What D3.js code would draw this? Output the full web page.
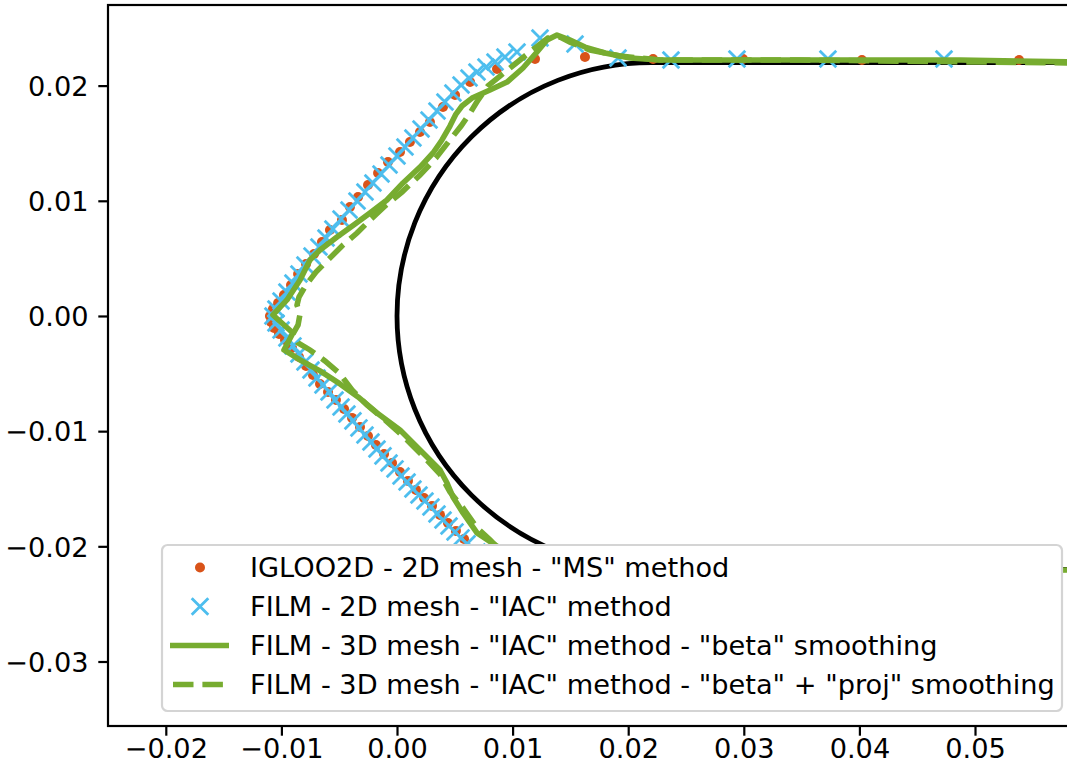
<!DOCTYPE html>
<html>
<head>
<meta charset="utf-8">
<script src="https://cdn.jsdelivr.net/npm/d3@7"></script>
<style>
body { margin: 0; background: #fff; }
svg { display: block; }
text { font-family: "DejaVu Sans", sans-serif; }
</style>
</head>
<body>
<div id="chart"></div>
<script>
// tick values
var xTicks = [-0.02, -0.01, 0.00, 0.01, 0.02, 0.03, 0.04, 0.05];
var yTicks = [-0.03, -0.02, -0.01, 0.00, 0.01, 0.02];

// clean body: leading edge circle + flat sides
var bodyCenterX = 0.022;
var bodyRadius = 0.022;
var bodyEndX = 0.0587;

// IGLOO2D - 2D mesh - "MS" method
var igloo = [
  [0.05381, 0.02222], [0.04022, 0.02222], [0.02993, 0.02231], [0.02215, 0.02231],
  [0.01626, 0.02248], [0.01194, 0.02231], [0.00865, 0.02144], [0.00632, 0.02031],
  [0.00502, 0.01918], [0.00398, 0.01814], [0.00285, 0.01684], [0.00199, 0.01597],
  [0.00112, 0.01510], [0.00026, 0.01424], [-0.00078, 0.01337], [-0.00164, 0.01241],
  [-0.00251, 0.01137], [-0.00337, 0.01033], [-0.00407, 0.00946], [-0.00476, 0.00833],
  [-0.00580, 0.00747], [-0.00649, 0.00642], [-0.00718, 0.00538], [-0.00787, 0.00451],
  [-0.00856, 0.00365], [-0.00917, 0.00269], [-0.00978, 0.00182], [-0.01029, 0.00113],
  [-0.01073, 0.00061], [-0.01099, 0.00000], [-0.01090, -0.00052], [-0.01064, -0.00104],
  [-0.01021, -0.00156], [-0.00969, -0.00208], [-0.00908, -0.00278], [-0.00848, -0.00356],
  [-0.00787, -0.00434], [-0.00727, -0.00512], [-0.00666, -0.00590], [-0.00597, -0.00660],
  [-0.00528, -0.00729], [-0.00458, -0.00807], [-0.00389, -0.00885], [-0.00320, -0.00964],
  [-0.00251, -0.01042], [-0.00182, -0.01120], [-0.00112, -0.01198], [-0.00043, -0.01276],
  [0.00026, -0.01354], [0.00095, -0.01432], [0.00164, -0.01510], [0.00234, -0.01580],
  [0.00303, -0.01649], [0.00372, -0.01727], [0.00441, -0.01797], [0.00510, -0.01866],
  [0.00580, -0.01936], [0.00632, -0.02031], [0.00865, -0.02144], [0.01194, -0.02231],
  [0.01626, -0.02248], [0.02215, -0.02231], [0.02993, -0.02222], [0.04022, -0.02222],
  [0.05381, -0.02222]
];

// FILM - 2D mesh - "IAC" method
var film2d = [
  [0.04732, 0.02231], [0.03728, 0.02231], [0.02941, 0.02231], [0.02370, 0.02222],
  [0.01912, 0.02240], [0.01540, 0.02361], [0.01237, 0.02413], [0.01038, 0.02292],
  [0.00934, 0.02248], [0.00848, 0.02205], [0.00770, 0.02161], [0.00692, 0.02118],
  [0.00623, 0.02066], [0.00554, 0.02005], [0.00484, 0.01936], [0.00415, 0.01858],
  [0.00346, 0.01780], [0.00277, 0.01701], [0.00208, 0.01623], [0.00138, 0.01545],
  [0.00069, 0.01467], [0.00000, 0.01389], [-0.00069, 0.01311], [-0.00138, 0.01233],
  [-0.00208, 0.01155], [-0.00277, 0.01076], [-0.00346, 0.00998], [-0.00415, 0.00920],
  [-0.00484, 0.00842], [-0.00554, 0.00755], [-0.00614, 0.00677], [-0.00675, 0.00599],
  [-0.00735, 0.00521], [-0.00796, 0.00443], [-0.00848, 0.00365], [-0.00900, 0.00286],
  [-0.00952, 0.00208], [-0.01003, 0.00130], [-0.01047, 0.00061], [-0.01073, 0.00000],
  [-0.01047, -0.00061], [-0.01003, -0.00122], [-0.00952, -0.00191], [-0.00900, -0.00260],
  [-0.00848, -0.00330], [-0.00796, -0.00399], [-0.00744, -0.00469], [-0.00692, -0.00538],
  [-0.00640, -0.00599], [-0.00588, -0.00660], [-0.00536, -0.00729], [-0.00484, -0.00790],
  [-0.00433, -0.00851], [-0.00381, -0.00911], [-0.00329, -0.00972], [-0.00277, -0.01033],
  [-0.00225, -0.01094], [-0.00173, -0.01155], [-0.00121, -0.01215], [-0.00069, -0.01276],
  [-0.00017, -0.01328], [0.00035, -0.01389], [0.00087, -0.01441], [0.00138, -0.01502],
  [0.00190, -0.01554], [0.00242, -0.01606], [0.00294, -0.01658], [0.00346, -0.01719],
  [0.00398, -0.01771], [0.00450, -0.01823], [0.00502, -0.01875], [0.00554, -0.01927],
  [0.00606, -0.01979], [0.00692, -0.02049], [0.00779, -0.02101], [0.00874, -0.02153],
  [0.01038, -0.02240], [0.01237, -0.02413], [0.01540, -0.02361], [0.01912, -0.02240],
  [0.02370, -0.02222], [0.02941, -0.02231], [0.03728, -0.02231], [0.04732, -0.02231]
];

// FILM - 3D mesh - "IAC" method - "beta" smoothing
var film3dBeta = [
  [0.05865, 0.02205], [0.04870, 0.02222], [0.03486, 0.02222], [0.02275, 0.02222],
  [0.02016, 0.02240], [0.01799, 0.02283], [0.01626, 0.02335], [0.01497, 0.02396],
  [0.01384, 0.02439], [0.01298, 0.02396], [0.01211, 0.02292], [0.01090, 0.02153],
  [0.00952, 0.02031], [0.00804, 0.01962], [0.00649, 0.01892], [0.00562, 0.01823],
  [0.00510, 0.01753], [0.00458, 0.01649], [0.00389, 0.01528], [0.00311, 0.01415],
  [0.00199, 0.01293], [0.00052, 0.01155], [-0.00087, 0.01007], [-0.00234, 0.00894],
  [-0.00363, 0.00799], [-0.00519, 0.00686], [-0.00666, 0.00573], [-0.00753, 0.00486],
  [-0.00839, 0.00313], [-0.00952, 0.00139], [-0.01073, 0.00009], [-0.00900, -0.00148],
  [-0.00978, -0.00295], [-0.00839, -0.00382], [-0.00666, -0.00477], [-0.00493, -0.00590],
  [-0.00337, -0.00703], [-0.00173, -0.00842], [0.00026, -0.00990], [0.00199, -0.01163],
  [0.00372, -0.01337], [0.00433, -0.01450], [0.00484, -0.01571], [0.00571, -0.01710],
  [0.00692, -0.01884], [0.00822, -0.01970], [0.00978, -0.02075], [0.01107, -0.02170],
  [0.01211, -0.02292], [0.01298, -0.02396], [0.01384, -0.02439], [0.01497, -0.02396],
  [0.01626, -0.02335], [0.01799, -0.02283], [0.02016, -0.02240], [0.02275, -0.02222],
  [0.03486, -0.02222], [0.04870, -0.02222], [0.05865, -0.02205]
];

// FILM - 3D mesh - "IAC" method - "beta" + "proj" smoothing
var film3dProj = [
  [0.05865, 0.02196], [0.03486, 0.02222], [0.02275, 0.02222], [0.01929, 0.02257],
  [0.01670, 0.02309], [0.01497, 0.02378], [0.01410, 0.02422], [0.01306, 0.02413],
  [0.01151, 0.02292], [0.01021, 0.02188], [0.00891, 0.02083], [0.00787, 0.01997],
  [0.00701, 0.01875], [0.00632, 0.01762], [0.00554, 0.01649], [0.00458, 0.01528],
  [0.00337, 0.01372], [0.00199, 0.01224], [0.00043, 0.01076], [-0.00104, 0.00955],
  [-0.00234, 0.00833], [-0.00346, 0.00720], [-0.00476, 0.00608], [-0.00597, 0.00486],
  [-0.00701, 0.00382], [-0.00787, 0.00269], [-0.00848, 0.00165], [-0.00865, 0.00095],
  [-0.00839, 0.00017], [-0.00856, -0.00078], [-0.00900, -0.00156], [-0.00856, -0.00234],
  [-0.00753, -0.00295], [-0.00623, -0.00391], [-0.00493, -0.00503], [-0.00389, -0.00642],
  [-0.00260, -0.00773], [-0.00104, -0.00903], [0.00052, -0.01042], [0.00216, -0.01207],
  [0.00372, -0.01372], [0.00458, -0.01528], [0.00571, -0.01667], [0.00692, -0.01840],
  [0.00804, -0.01944], [0.00908, -0.02049], [0.01047, -0.02161], [0.01177, -0.02274],
  [0.01306, -0.02413], [0.01410, -0.02422], [0.01497, -0.02378], [0.01670, -0.02309],
  [0.01929, -0.02257], [0.02275, -0.02222], [0.03486, -0.02222], [0.05865, -0.02196]
];

var legendLabels = [
  'IGLOO2D - 2D mesh - "MS" method',
  'FILM - 2D mesh - "IAC" method',
  'FILM - 3D mesh - "IAC" method - "beta" smoothing',
  'FILM - 3D mesh - "IAC" method - "beta" + "proj" smoothing'
];

var orange = "#D95319", blue = "#4DBEEE", green = "#77AC30";
var fontSize = 27.2;

var width = 1067, height = 772;
var plot = {left: 108, right: 1069.8, top: 5, bottom: 726};

var svg = d3.select("#chart").append("svg")
    .attr("width", width)
    .attr("height", height);

var x = d3.scaleLinear().domain([-0.025, 0.0582]).range([plot.left, plot.right]);
var y = d3.scaleLinear().domain([-0.0356, 0.027]).range([plot.bottom, plot.top]);

svg.append("clipPath").attr("id", "clip")
  .append("rect")
    .attr("x", plot.left).attr("y", plot.top)
    .attr("width", plot.right - plot.left).attr("height", plot.bottom - plot.top);

var g = svg.append("g").attr("clip-path", "url(#clip)");

// body contour
var rx = x(bodyRadius) - x(0), ry = y(0) - y(bodyRadius);
var body = "M" + x(bodyEndX) + "," + y(bodyRadius) +
    "L" + x(bodyCenterX) + "," + y(bodyRadius) +
    "A" + rx + "," + ry + " 0 0 0 " + x(bodyCenterX) + "," + y(-bodyRadius) +
    "L" + x(bodyEndX) + "," + y(-bodyRadius);
g.append("path")
    .attr("d", body)
    .attr("fill", "none")
    .attr("stroke", "#000")
    .attr("stroke-width", 4.8);

// IGLOO2D dots
g.selectAll(".igloo").data(igloo).enter().append("circle")
    .attr("class", "igloo")
    .attr("cx", function(d) { return x(d[0]); })
    .attr("cy", function(d) { return y(d[1]); })
    .attr("r", 5)
    .attr("fill", orange);

// FILM 2D crosses
var cross = "M-8.3,-8.3L8.3,8.3M8.3,-8.3L-8.3,8.3";
g.selectAll(".film2d").data(film2d).enter().append("path")
    .attr("class", "film2d")
    .attr("transform", function(d) { return "translate(" + x(d[0]) + "," + y(d[1]) + ")"; })
    .attr("d", cross)
    .attr("stroke", blue)
    .attr("stroke-width", 2.8)
    .attr("fill", "none");

var line = d3.line()
    .x(function(d) { return x(d[0]); })
    .y(function(d) { return y(d[1]); });

g.append("path")
    .attr("d", line(film3dBeta))
    .attr("fill", "none")
    .attr("stroke", green)
    .attr("stroke-width", 5.56)
    .attr("stroke-linejoin", "round");

g.append("path")
    .attr("d", line(film3dProj))
    .attr("fill", "none")
    .attr("stroke", green)
    .attr("stroke-width", 5.56)
    .attr("stroke-dasharray", "20.5,8.9");

// axes
var fmt = d3.format(".2f");

var xAxis = svg.append("g")
    .attr("transform", "translate(0," + plot.bottom + ")")
    .call(d3.axisBottom(x).tickValues(xTicks).tickFormat(fmt).tickSize(9.7).tickSizeOuter(0));
var yAxis = svg.append("g")
    .attr("transform", "translate(" + plot.left + ",0)")
    .call(d3.axisLeft(y).tickValues(yTicks).tickFormat(fmt).tickSize(9.7).tickSizeOuter(0));

svg.selectAll(".domain").remove();
svg.selectAll(".tick line").attr("stroke", "#000").attr("stroke-width", 2.2);
xAxis.selectAll("text")
    .attr("y", 32).attr("dy", 0)
    .attr("font-size", fontSize).attr("font-family", "DejaVu Sans").attr("fill", "#000");
yAxis.selectAll("text")
    .attr("x", -19.4).attr("dy", "0.36em")
    .attr("font-size", fontSize).attr("font-family", "DejaVu Sans").attr("fill", "#000");

// spines
svg.append("rect")
    .attr("x", plot.left).attr("y", plot.top)
    .attr("width", plot.right - plot.left).attr("height", plot.bottom - plot.top)
    .attr("fill", "none")
    .attr("stroke", "#000")
    .attr("stroke-width", 2.2);

// legend
var legend = svg.append("g");
legend.append("rect")
    .attr("x", 162).attr("y", 545)
    .attr("width", 900).attr("height", 166)
    .attr("rx", 5.6)
    .attr("fill", "#fff")
    .attr("stroke", "#d4d4d4").attr("stroke-width", 2.2);

var rowY = d3.scaleLinear().domain([0, 3]).range([577, 694]);

legendLabels.forEach(function(label, i) {
  var cy = rowY(i) - 9.5;
  if (i === 0) {
    legend.append("circle").attr("cx", 200).attr("cy", cy).attr("r", 5).attr("fill", orange);
  } else if (i === 1) {
    legend.append("path")
        .attr("transform", "translate(200," + cy + ")")
        .attr("d", cross).attr("stroke", blue).attr("stroke-width", 2.8);
  } else {
    var l = legend.append("line")
        .attr("x1", 170).attr("x2", 229)
        .attr("y1", cy).attr("y2", cy)
        .attr("stroke", green).attr("stroke-width", 5.56);
    if (i === 3) l.attr("stroke-dasharray", "20.5,8.9").attr("stroke-dashoffset", 26.4);
  }
  legend.append("text")
      .attr("x", 250).attr("y", rowY(i))
      .attr("font-size", fontSize)
      .attr("fill", "#000")
      .text(label);
});
</script>
</body>
</html>
